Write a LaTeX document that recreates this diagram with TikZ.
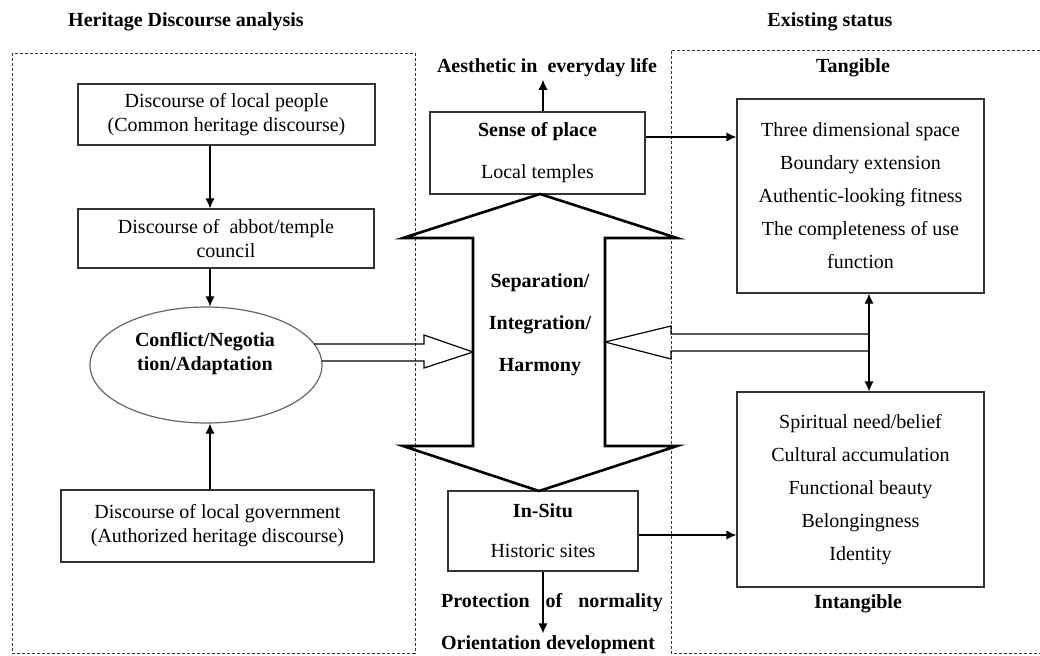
\documentclass[tikz,border=0pt]{standalone}
\usepackage{fontspec}
\setmainfont{Liberation Serif}
\usetikzlibrary{shapes,arrows,arrows.meta,positioning,calc}
\tikzstyle{block} = [rectangle, draw=black!80, line width=0.6pt, text centered, align=center, inner sep=0pt]
\tikzstyle{oval} = [ellipse, draw=black!60, line width=0.6pt, minimum width=116pt, minimum height=58pt, inner sep=0pt]
\tikzstyle{heading} = [font=\bfseries, align=center, inner sep=1pt]
\tikzstyle{region} = [draw=black!80, line width=0.4pt, dash pattern=on 1.5pt off 1pt]
\tikzstyle{bigarrow} = [draw, line width=1.3pt, line join=miter]
\tikzstyle{hollow} = [draw, line width=0.6pt, line join=miter]

\begin{document}
\begin{tikzpicture}[x=0.5pt, y=-0.5pt, >={Latex[length=5pt,width=4.6pt]}, line width=0.6pt]
    \useasboundingbox (0,0) rectangle (1040,655);

    % dashed regions
    \draw[region] (12,53) rectangle (415,653);
    \draw[region] (1045,50) -- (671,50) -- (671,653) -- (1045,653);

    \node[heading] (leftTitle) at (186,22) {Heritage Discourse analysis};
    \node[heading] (rightTitle) at (830,22) {Existing status};

    % left column
    \node[block, minimum width=148.5pt, minimum height=30.5pt] (people) at (226.5,114.5) {Discourse of local people\\(Common heritage discourse)};
    \node[block, minimum width=148pt, minimum height=29.5pt] (abbot) at (226,238.5) {Discourse of\ \ abbot/temple\\council};
    \node[oval] (conflict) at (206,365) {};
    \node[font=\bfseries, align=center] (conflictText) at (205,354) {Conflict/Negotia\\tion/Adaptation};
    \node[block, minimum width=156.5pt, minimum height=36pt] (govt) at (217.5,526) {Discourse of local government\\(Authorized heritage discourse)};
    \coordinate (col) at (210,0);

    \draw[->] (people.south -| col) -- (abbot.north -| col);
    \draw[->] (abbot.south -| col) -- (conflict.north -| col);
    \draw[->] (govt.north -| col) -- (conflict.south -| col);

    % middle column
    \node[heading] (aesthetic) at (547,68) {Aesthetic in\ \ everyday life};
    \node[block, minimum width=107.5pt, minimum height=41pt] (sense) at (537.5,153) {\textbf{Sense of place}\\[9pt]Local temples};
    \node[block, minimum width=95pt, minimum height=40pt] (insitu) at (543,531) {\textbf{In-Situ}\\[8pt]Historic sites};
    \node[heading] (protection) at (552,603) {Protection\hspace{8pt}of\hspace{8pt}normality};
    \node[heading] (orient) at (548,645) {Orientation development};

    \draw[bigarrow] (540,194) -- (677,238) -- (605,238) -- (605,446) -- (677,446)
        -- (539,491) -- (403,446) -- (473,446) -- (473,238) -- (403,238) -- cycle;
    \node[heading] (harmony) at (540,325) {Separation/\\[9pt]Integration/\\[9pt]Harmony};

    \draw[->] ([xshift=2.75pt]sense.north) -- ([xshift=2.75pt]sense.north |- aesthetic.south);
    \draw[->] (insitu.south) -- (insitu.south |- orient.north);

    % right column
    \node[heading] (tangible) at (853,68) {Tangible};
    \node[block, minimum width=123.5pt, minimum height=97pt] (tangBox) at (860.5,196)
        {Three dimensional space\\[4.5pt]Boundary extension\\[4.5pt]Authentic-looking fitness\\[4.5pt]The completeness of use\\[4.5pt]function};
    \node[block, minimum width=123.5pt, minimum height=97.5pt] (intangBox) at (860.5,489.5)
        {Spiritual need/belief\\[4.5pt]Cultural accumulation\\[4.5pt]Functional beauty\\[4.5pt]Belongingness\\[4.5pt]Identity};
    \node[heading] (intangible) at (858,604) {Intangible};

    \draw[->] ([yshift=8pt]sense.east) -- ([yshift=8pt]sense.east -| tangBox.west);
    \draw[->] ([yshift=-2pt]insitu.east) -- ([yshift=-2pt]insitu.east -| intangBox.west);
    \draw[<->] ([xshift=4.25pt]tangBox.south) -- ([xshift=4.25pt]intangBox.north);

    % hollow arrows into the shaft
    \draw[hollow] (314,344) -- (424,344) -- (424,335) -- (473,352) -- (424,368) -- (424,361) -- (322,361);
    \draw[hollow] (869,334) -- (671,334) -- (671,326) -- (605,342) -- (671,359) -- (671,351) -- (869,351);
\end{tikzpicture}
\end{document}
